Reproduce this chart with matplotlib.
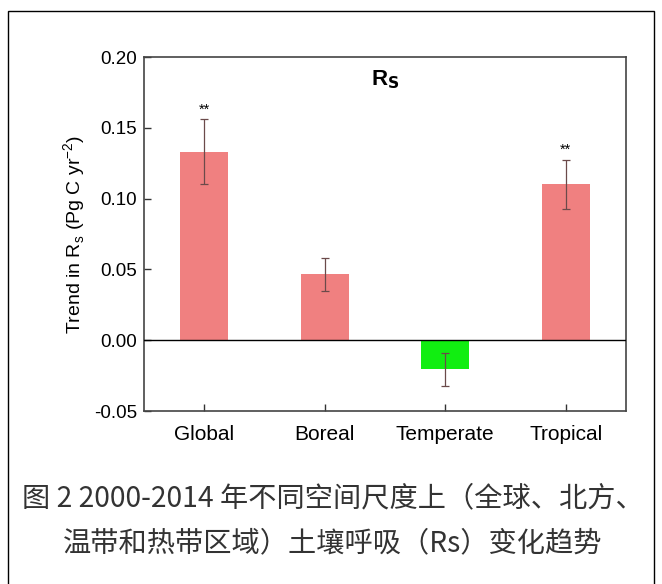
import matplotlib
matplotlib.use("Agg")
import matplotlib.pyplot as plt
from matplotlib.patches import Rectangle

plt.rcParams['font.family'] = ['Liberation Sans', 'DejaVu Sans']

categories = ["Global", "Boreal", "Temperate", "Tropical"]
trend = [0.133, 0.0465, -0.0205, 0.110]
err = [0.023, 0.0117, 0.0116, 0.0172]
signif = ["**", "", "", "**"]
colors = ["#F08080", "#F08080", "#11EE11", "#F08080"]
yticks = [-0.05, 0.00, 0.05, 0.10, 0.15, 0.20]
caption = ["图 2 2000-2014 年不同空间尺度上（全球、北方、",
           "温带和热带区域）土壤呼吸（Rs）变化趋势"]

W, H = 662, 584
fig = plt.figure(figsize=(W / 100, H / 100), dpi=100)

# outer frame
fig.patches.append(Rectangle((8 / W, -0.05), (654 - 8) / W, (H - 11) / H + 0.05,
                             transform=fig.transFigure, fill=False,
                             edgecolor="black", linewidth=1.0))

ax = fig.add_axes([144 / W, 1 - 411 / H, (626 - 144) / W, (411 - 57) / H])
x = list(range(len(categories)))
ax.bar(x, trend, width=0.4, color=colors, zorder=2)
ax.errorbar(x, trend, yerr=err, fmt="none", ecolor="#6b4a4a", elinewidth=0.9,
            capsize=3, capthick=0.9, zorder=3)
for xi, v, e, s in zip(x, trend, err, signif):
    if s:
        ax.text(xi, v + e + 0.002, s, ha="center", va="bottom", fontsize=10.5)

ax.axhline(0, color="black", linewidth=1.0, zorder=4)
ax.set_xlim(-0.5, 3.5)
ax.set_ylim(-0.05, 0.20)
ax.set_yticks(yticks)
ax.set_yticklabels([f"{t:.2f}" for t in yticks], fontsize=13.5)
ax.set_xticks(x)
ax.set_xticklabels(categories, fontsize=15)
ax.tick_params(axis="both", direction="in", length=5, width=1, color="#333333")
ax.tick_params(axis="x", pad=10)
ax.tick_params(axis="y", pad=5)
for sp in ax.spines.values():
    sp.set_color("#444444")
    sp.set_linewidth(1.2)

ax.set_ylabel(r"Trend in R$_\mathregular{s}$ (Pg C yr$^\mathregular{-2}$)", fontsize=14, labelpad=4)
ax.text(0.5, 0.935, r"R$_\mathbf{S}$", transform=ax.transAxes, ha="center",
        va="center", fontsize=16, fontweight="bold")

for i, line in enumerate(caption):
    fig.text(333 / W, 1 - (498 + i * 45) / H, line, ha="center", va="center",
             fontsize=20.3, color="#333333",
             family=["Noto Sans CJK SC", "DejaVu Sans"])

fig.savefig("out.png", dpi=100)
